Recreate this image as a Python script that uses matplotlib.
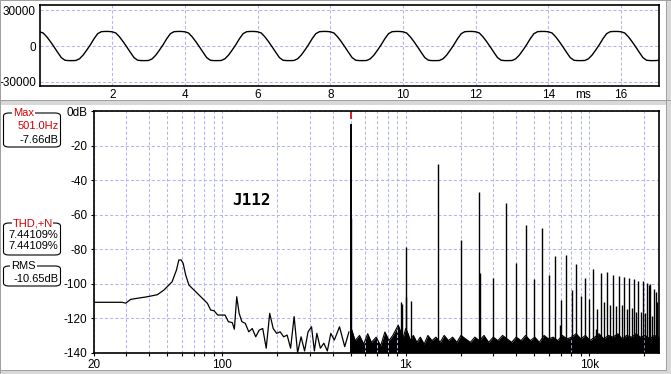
import numpy as np
import matplotlib
matplotlib.use("Agg")
import matplotlib.pyplot as plt
from matplotlib.patches import FancyBboxPatch, Rectangle
from matplotlib.ticker import FixedLocator, NullFormatter

plt.rcParams["font.family"] = ["Liberation Sans", "DejaVu Sans"]
plt.rcParams["font.size"] = 8

W, H = 671, 374

# ── waveform (top panel) ─────────────────────────────────────────────────────
# one cycle at 0.1 ms steps; the trace repeats it
STEP_MS = 0.1
WAVE_CYCLE = [12000, 11000, 7800, 3800, -600, -5200, -9600, -11800, -12100, -12100,
              -12000, -10600, -7500, -3300, 1200, 6200, 10400, 12100, 12300, 12300]
N_CYCLES = 9
WAVE_XTICKS = [2, 4, 6, 8, 10, 12, 14, 16]
WAVE_YTICKS = [-30000, 0, 30000]

# ── spectrum (bottom panel) ──────────────────────────────────────────────────
FUND_HZ = 501.0
HARM_DB = [-7.66, -78.7, -30.7, -74.8, -47.0, -96.8, -53.3, -87.9, -66.1, -97.5,
           -67.6, -95.0, -84.0, -109.5, -83.4, -103.7, -88.6, -107.2, -96.9, -109.0,
           -91.7, -114.9, -94.0, -110.4, -93.5, -112.4, -95.0, -113.0, -95.6, -112.4,
           -96.3, -114.9, -96.9, -114.3, -97.5, -116.3, -98.3, -116.3, -98.7, -116.9,
           -99.5, -100.5, -100.0, -119.0, -103.0, -105.0, -110.4]
EXTRA_HZ = [506, 941, 955, 1008, 1062, 2530, 6950, 10900]
EXTRA_DB = [-62.0, -110.5, -112.0, -107.6, -109.8, -94.0, -124.0, -126.0]

LOW_F = [20, 25, 28.5, 29.8, 31.7, 34.4, 39.0, 44.3, 48.1, 53.3, 56.3, 58.0, 59.7,
         61.2, 63.2, 65.8, 70.1, 76.4, 83.0, 86.5, 90.2, 94.5, 100, 103.6, 107.9,
         113.4, 116.4, 119.9, 123.6, 127.9, 133.5, 139.5, 145.7, 152.2, 159.0,
         166.2, 173.6, 181.4, 189.5, 197.9, 206.8, 216.1, 225.7, 235.8, 246.4,
         257.4, 268.9, 281, 293.5, 306.6, 317.7, 327.8, 342.5, 357.8, 373.8,
         390.5, 408, 435.6, 465, 490]
LOW_DB = [-110.8, -110.8, -110.8, -111.3, -109.1, -108.5, -107.6, -106.4, -103.7,
          -98.9, -92.1, -86.3, -86.3, -88.2, -95.0, -100.8, -103.7, -107.6, -111.4,
          -115.3, -115.7, -118.2, -118.2, -118.2, -122.0, -122.6, -126.4, -107.6,
          -117.2, -122.0, -123.0, -127.9, -126.0, -130.8, -126.9, -126.0, -137.4,
          -117.2, -126.0, -128.8, -127.9, -130.8, -129.8, -137.4, -119.1, -140.0,
          -130.8, -139.0, -127.9, -125.0, -139.0, -128.8, -137.4, -134.5, -139.0,
          -128.8, -132.7, -125.0, -136.5, -128.0]

NOISE_F = [505, 530, 560, 590, 620, 650, 690, 730, 770, 810,
           850, 880, 910, 940, 970, 1000, 1030, 1060, 1100, 1150,
           1200, 1260, 1320, 1390, 1460, 1540, 1620, 1710, 1800, 1900,
           2000, 2120, 2250, 2380, 2520, 2670, 2830, 3000, 3180, 3370,
           3570, 3780, 4000, 4250, 4500, 4770, 5050, 5350, 5670, 6000,
           6360, 6740, 7140, 7560, 8010, 8490, 9000, 9530, 10100, 10700,
           11300, 12000, 12700, 13500, 14300, 15100, 16000, 17000, 18000, 19000,
           20200, 21400, 22600, 24000]
NOISE_DB = [-126, -133, -130, -135, -129, -134, -131, -136, -128, -133,
            -130, -127, -124, -128, -131, -126, -129, -133, -130, -134,
            -131, -135, -130, -133, -131, -134, -130, -133, -131, -134,
            -130, -132, -134, -131, -133, -130, -134, -131, -133, -130,
            -132, -134, -131, -133, -130, -133, -131, -134, -130, -132,
            -131, -133, -130, -132, -131, -129, -132, -130, -133, -131,
            -129, -132, -130, -131, -129, -132, -130, -131, -129, -131,
            -130, -132, -130, -131]

GRID_F = [30, 40, 50, 60, 70, 80, 90, 200, 300, 400, 500, 600, 700, 800, 900,
          2000, 3000, 4000, 5000, 6000, 7000, 8000, 9000, 20000]
SPEC_XTICKS = [20, 100, 1000, 10000]
SPEC_XLABELS = ["20", "100", "1k", "10k"]
SPEC_YTICKS = [0, -20, -40, -60, -80, -100, -120, -140]
SPEC_YLABELS = ["0dB", "-20", "-40", "-60", "-80", "-100", "-120", "-140"]

GRID_C = "#b4b4f6"
RED = "#d80000"
DARK = "#a0a0a0"
LIGHT = "#d8d8d8"


def fig_rect(x0, y0, x1, y1):
    # pixel box (top-left origin) -> figure fraction rect
    return [x0 / W, 1 - y1 / H, (x1 - x0) / W, (y1 - y0) / H]


fig = plt.figure(figsize=(W / 100, H / 100), dpi=100)
fig.patch.set_facecolor("white")

# window frame pieces
for (x0, y0, x1, y1), c in [((0, 101, W, 105), LIGHT), ((667, 0, W, H), LIGHT),
                            ((0, 371, W, H), LIGHT), ((0, 0, 1.3, H), DARK),
                            ((0, 0, W, 1.3), DARK), ((0, 100, W, 101.3), DARK),
                            ((665.7, 0, 667, 371), DARK), ((0, 369.7, 667, 371), DARK)]:
    r = fig_rect(x0, y0, x1, y1)
    fig.patches.append(Rectangle((r[0], r[1]), r[2], r[3], transform=fig.transFigure,
                                 facecolor=c, edgecolor="none", zorder=0))

# ── top: waveform ────────────────────────────────────────────────────────────
ax1 = fig.add_axes(fig_rect(39.5, 5.3, 659.3, 86))
wave = np.tile(WAVE_CYCLE, N_CYCLES)
t = np.arange(len(wave)) * STEP_MS
ax1.plot(t, wave, color="black", lw=1.0)
ax1.set_xlim(0, 17.05)
ax1.set_ylim(-33350, 34180)
ax1.set_xticks(WAVE_XTICKS)
ax1.set_yticks(WAVE_YTICKS)
ax1.set_yticklabels([str(v) for v in WAVE_YTICKS])
ax1.tick_params(length=0, pad=2.5, labelsize=8.5)
ax1.grid(True, color=GRID_C, ls=(0, (3, 2)), lw=0.75)
for s in ax1.spines.values():
    s.set_linewidth(1.2)
fig.text(583 / W, 1 - 95 / H, "ms", ha="center", va="center", fontsize=8.5)

# ── bottom: spectrum ─────────────────────────────────────────────────────────
ax2 = fig.add_axes(fig_rect(94, 111, 659, 352.7))
ax2.set_xscale("log")
ax2.set_xlim(20, 24000)
ax2.set_ylim(-140, 0)

ax2.plot(LOW_F, LOW_DB, color="black", lw=0.9)
ax2.fill_between(NOISE_F, -140, NOISE_DB, color="black", lw=0)
ax2.plot(NOISE_F, NOISE_DB, color="black", lw=0.8)
harm_f = FUND_HZ * np.arange(1, len(HARM_DB) + 1)
ax2.vlines(harm_f[1:], -140, HARM_DB[1:], color="black", lw=1.0)
ax2.vlines(EXTRA_HZ, -140, EXTRA_DB, color="black", lw=1.0)
ax2.vlines(harm_f[0], -140, HARM_DB[0], color="black", lw=1.4)
ax2.vlines(harm_f[0], -4.6, 0, color=RED, lw=1.2)

ax2.xaxis.set_major_locator(FixedLocator(SPEC_XTICKS))
ax2.xaxis.set_minor_locator(FixedLocator(GRID_F))
ax2.xaxis.set_minor_formatter(NullFormatter())
ax2.set_xticklabels(SPEC_XLABELS)
ax2.set_yticks(SPEC_YTICKS)
ax2.set_yticklabels(SPEC_YLABELS)
ax2.tick_params(which="both", direction="out", length=2.2, width=0.8, pad=2.5,
                labelsize=8.5)
ax2.grid(True, which="both", color=GRID_C, ls=(0, (3, 2)), lw=0.75)
for s in ax2.spines.values():
    s.set_linewidth(1.2)

ax2.text(0.279, 0.63, "J112", transform=ax2.transAxes, fontsize=11.5,
         fontweight="bold", family="DejaVu Sans Mono", ha="center", va="center")

# ── readout boxes on the left ────────────────────────────────────────────────
BOXES = [
    ((3.5, 113, 60.5, 147), ("Max", 23.5, RED),
     [("501.0Hz", 126, RED), ("-7.66dB", 139.5, "black")]),
    ((3.5, 223, 60.5, 255), ("THD,+N", 32.5, RED),
     [("7.44109%", 235, "black"), ("7.44109%", 246, "black")]),
    ((3.5, 266, 60.5, 286), ("RMS", 23.5, "black"),
     [("-10.65dB", 278.5, "black")]),
]
for (x0, y0, x1, y1), (title, tx, tc), lines in BOXES:
    r = fig_rect(x0, y0, x1, y1)
    fig.patches.append(FancyBboxPatch((r[0], r[1]), r[2], r[3],
                                      boxstyle="round,pad=0,rounding_size=0.008",
                                      transform=fig.transFigure, facecolor="white",
                                      edgecolor="black", lw=0.8, zorder=2))
    fig.text(tx / W, 1 - y0 / H, title, color=tc, ha="center", va="center",
             fontsize=8, zorder=3,
             bbox=dict(facecolor="white", edgecolor="none", pad=0.6))
    for txt, ly, c in lines:
        fig.text(58.5 / W, 1 - ly / H, txt, color=c, ha="right", va="center",
                 fontsize=8, zorder=3)

fig.savefig("out.png", dpi=100)
